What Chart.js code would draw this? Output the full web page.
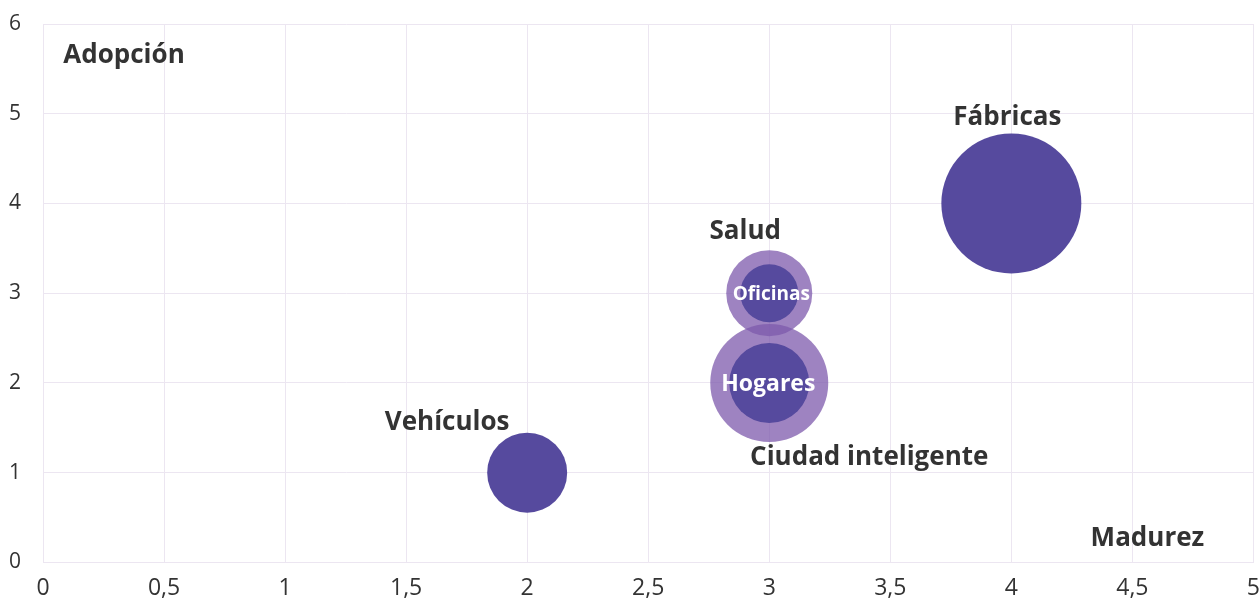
<!DOCTYPE html>
<html>
<head>
<meta charset="utf-8">
<script src="https://cdn.jsdelivr.net/npm/chart.js@4"></script>
<style>
  body { margin: 0; background: #fff; }
  #bubble { display: block; }
</style>
</head>
<body>
<canvas id="bubble" width="1260" height="602"></canvas>
<script>
// Datos
var nombres = ['Salud', 'Ciudad inteligente', 'Vehículos', 'Oficinas', 'Hogares', 'Fábricas'];
var madurez = [3, 3, 2, 3, 3, 4];
var adopcion = [3, 2, 1, 3, 2, 4];
var tamano = [43, 59, 40, 29, 40, 70];
var capa = ['claro', 'claro', 'oscuro', 'oscuro', 'oscuro', 'oscuro'];
var ticksX = [0, 0.5, 1, 1.5, 2, 2.5, 3, 3.5, 4, 4.5, 5];

var colorOscuro = '#564a9e';
var colorClaro = 'rgba(125, 90, 172, 0.75)';
var fuente = "'Open Sans', 'Noto Sans', sans-serif";

function puntos(tipo) {
    var out = [];
    for (var i = 0; i < nombres.length; i++) {
        if (capa[i] === tipo) out.push({ x: madurez[i], y: adopcion[i], r: tamano[i], nombre: nombres[i] });
    }
    return out;
}

// posicion de cada etiqueta respecto a su burbuja (px)
var etiquetas = {
    'Salud': { dx: -24, dy: -62, color: '#333', size: 26 },
    'Ciudad inteligente': { dx: 100, dy: 75, color: '#333', size: 26 },
    'Vehículos': { dx: -80, dy: -50, color: '#333', size: 26 },
    'Oficinas': { dx: 2, dy: 1, color: '#fff', size: 19 },
    'Hogares': { dx: -1, dy: 2, color: '#fff', size: 23 },
    'Fábricas': { dx: -4, dy: -86, color: '#333', size: 26 }
};

var textos = {
    id: 'textos',
    afterDatasetsDraw: function (chart) {
        var ctx = chart.ctx;
        var sx = chart.scales.x, sy = chart.scales.y;
        ctx.save();
        ctx.textAlign = 'center';
        ctx.textBaseline = 'middle';
        for (var i = 0; i < nombres.length; i++) {
            var e = etiquetas[nombres[i]];
            ctx.fillStyle = e.color;
            ctx.font = 'bold ' + e.size + 'px ' + fuente;
            ctx.fillText(nombres[i], sx.getPixelForValue(madurez[i]) + e.dx, sy.getPixelForValue(adopcion[i]) + e.dy);
        }
        // titulos de los ejes dentro del area
        var a = chart.chartArea;
        ctx.fillStyle = '#333';
        ctx.font = 'bold 26px ' + fuente;
        ctx.fillText('Adopción', a.left + 81, a.top + 32);
        ctx.fillText('Madurez', a.right - 106, a.bottom - 24);
        ctx.restore();
    }
};

var chart1 = document.getElementById('bubble');
var myChart1 = new Chart(chart1, {
    type: 'bubble',
    data: {
        datasets: [{
            // las oscuras van primero para quedar encima
            data: puntos('oscuro'),
            backgroundColor: colorOscuro,
            borderWidth: 0
        }, {
            data: puntos('claro'),
            backgroundColor: colorClaro,
            borderWidth: 0
        }]
    },
    options: {
        responsive: false,
        animation: false,
        layout: {
            autoPadding: false,
            padding: { left: 9, right: 0, top: 24, bottom: 0 }
        },
        scales: {
            x: {
                type: 'linear',
                min: 0,
                max: 5,
                afterBuildTicks: function (axis) {
                    axis.ticks = ticksX.map(function (v) { return { value: v }; });
                },
                grid: { color: '#ece6f1', tickColor: 'transparent', tickLength: 12 },
                border: { color: '#ece6f1' },
                ticks: {
                    padding: 0,
                    color: '#333',
                    font: { family: fuente, size: 23 },
                    callback: function (v) { return String(v).replace('.', ','); }
                }
            },
            y: {
                min: 0,
                max: 6,
                grid: { color: '#ece6f1', tickColor: 'transparent', tickLength: 22 },
                border: { color: '#ece6f1' },
                ticks: {
                    stepSize: 1,
                    padding: 0,
                    color: '#333',
                    font: { family: fuente, size: 21 }
                }
            }
        },
        plugins: {
            legend: { display: false },
            tooltip: { enabled: false }
        }
    },
    plugins: [textos]
});
</script>
</body>
</html>
